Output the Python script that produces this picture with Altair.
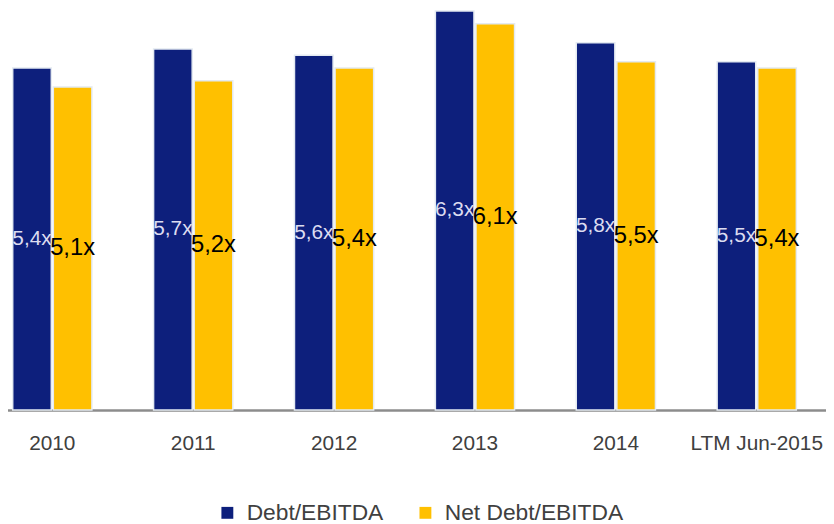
import altair as alt
import pandas as pd

categories = ["2010", "2011", "2012", "2013", "2014", "LTM Jun-2015"]
series = ["Debt/EBITDA", "Net Debt/EBITDA"]
debt = [5.4, 5.7, 5.6, 6.3, 5.8, 5.5]
net_debt = [5.1, 5.2, 5.4, 6.1, 5.5, 5.4]

rows = []
for c, d, n in zip(categories, debt, net_debt):
    for s, v in ((series[0], d), (series[1], n)):
        rows.append({"category": c, "series": s, "value": v,
                     "label": f"{v:.1f}".replace(".", ",") + "x"})
df = pd.DataFrame(rows)

FONT = "Liberation Sans"

x_enc = alt.X("category:N", sort=categories,
              scale=alt.Scale(range=[-26.4, 827.2], paddingInner=0.438, paddingOuter=0.219),
              axis=alt.Axis(title=None, ticks=False, labelPadding=23, labelFont=FONT,
                            labelFontSize=21, labelColor="#404040", domainColor="#8c8c8c",
                            domainWidth=2.5, labelAngle=0, grid=False, labelLimit=0))
xo_enc = alt.XOffset("series:N", sort=series, scale=alt.Scale(paddingInner=0.05, paddingOuter=0))
y_scale = alt.Scale(domain=[0, 6.3], nice=False, zero=True)

base = alt.Chart(df).encode(x=x_enc, xOffset=xo_enc)

bars = base.mark_bar(stroke="#e4eaf1", strokeWidth=1.5).encode(
    y=alt.Y("value:Q", scale=y_scale, axis=None),
    color=alt.Color("series:N", sort=series,
                    scale=alt.Scale(domain=series, range=["#0d1f7c", "#ffc000"]),
                    legend=alt.Legend(orient="none", legendX=210, legendY=495,
                                      direction="horizontal", title=None,
                                      symbolType="square", symbolSize=144,
                                      symbolStrokeWidth=0, labelFont=FONT,
                                      labelFontSize=23, labelColor="#404040",
                                      labelLimit=0, columnPadding=30, labelOffset=8,
                                      padding=0)),
)

debt_text = base.transform_filter(alt.datum.series == series[0]).transform_calculate(
    half="datum.value / 2").mark_text(font=FONT, fontSize=21, color="#dcdcf0",
                                       baseline="middle").encode(
    y=alt.Y("half:Q", scale=y_scale, axis=None), text="label:N")

net_text = base.transform_filter(alt.datum.series == series[1]).transform_calculate(
    half="datum.value / 2").mark_text(font=FONT, fontSize=24, color="#000000",
                                       baseline="middle").encode(
    y=alt.Y("half:Q", scale=y_scale, axis=None), text="label:N")

chart = alt.layer(bars, debt_text, net_text).properties(
    width=826, height=403,
    autosize=alt.AutoSizeParams(type="none"),
    padding={"left": 0, "top": 0.5, "right": 0, "bottom": 112},
    background="#ffffff",
).configure_view(stroke=None)

chart.save("out.html", embed_options={"renderer": "svg", "actions": False})
